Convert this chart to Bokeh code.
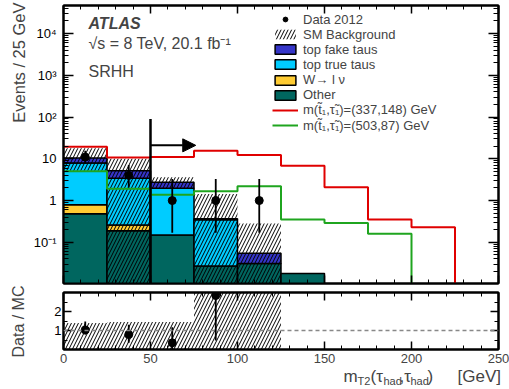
import math
import numpy as np
from bokeh.plotting import figure
from bokeh.models import (Range1d, FixedTicker, SingleIntervalTicker, LinearAxis, LogAxis,
                          Label, Legend, LegendItem, Arrow, NormalHead, Span, CustomJSTickFormatter)
from bokeh.layouts import column, row
from bokeh.embed import file_html
from bokeh.resources import INLINE

FONT = "Liberation Sans"

# ---------------- data ----------------
bin_edges = [0, 25, 50, 75, 100, 125, 150, 175, 200, 225, 250]
x_ticks = [0, 50, 100, 150, 200, 250]

# stacked backgrounds (bins 0-150 GeV)
other    = [0.48, 0.19, 0.15, 0.027, 0.031, 0.018]
wlnu     = [0.31, 0.07, 0.0, 0.0, 0.0, 0.0]
top_true = [7.1, 3.14, 1.81, 0.32, 0.0, 0.0]
top_fake = [2.5, 1.8, 0.79, 0.02, 0.024, 0.0]

# SM background uncertainty band
sm_up   = [18.0, 10.0, 3.6, 1.44, 0.28, 0.0]
sm_down = [5.2, 0.0, 1.9, 0.0, 0.0, 0.0]

# signals
sig1 = [19.4, 10.7, 11.1, 15.5, 12.4, 6.8, 2.08, 0.35, 0.23, 0.0]   # (337,148)
sig2 = [5.0, 1.92, 1.37, 1.67, 2.2, 0.35, 0.29, 0.16, 0.0, 0.0]     # (503,87)

# data
data_x  = [12.5, 37.5, 62.5, 87.5, 112.5]
data_y  = [11, 4, 1, 1, 1]
data_lo = [7.6, 2.05, 0.17, 0.17, 0.17]
data_hi = [15.6, 7.1, 3.3, 3.3, 3.3]

# ratio panel
ratio_x  = [12.5, 37.5, 62.5, 87.5]
ratio_y  = [1.03, 0.79, 0.35, 2.84]
ratio_lo = [0.79, 0.35, 0.0, 0.47]
ratio_hi = [1.48, 1.30, 1.17, 3.5]
ratio_band_lo = [0.0, 0.0, 0.0, 0.0, 0.0]
ratio_band_hi = [1.4, 1.45, 1.45, 3.5, 3.5]

cut_value = 50
cut_line_top = 90
arrow_y = 21
arrow_end = 76

y_major = [0.1, 1, 10, 100, 1000, 10000]
y_labels = {0.1: "10\u207b\u00b9", 1: "1", 10: "10", 100: "10\u00b2", 1000: "10\u00b3", 10000: "10\u2074"}

C_FAKE = "#3535c8"
C_TRUE = "#00ccff"
C_W = "#ffcc33"
C_OTHER = "#00665f"
C_RED = "#e00000"
C_GREEN = "#1fa51f"

YMIN, YMAX = 0.0103, 4.7e4
TINY = 1e-5

# layout (pixels)
STRIP = 30          # left strip holding the rotated axis titles
BL, BR = 33, 11     # borders left/right of the plot frames
FRAME_W = 509 - STRIP - BL - BR
FRAME_H_MAIN = 288 - 5 - 5

BLANK = CustomJSTickFormatter(code="return ''")

# ---------------- helpers ----------------
def style_axis(ax, labels=True, major_in=9, minor_in=5, standoff=6, size="13px"):
    ax.major_tick_in = major_in
    ax.major_tick_out = 0
    ax.minor_tick_in = minor_in
    ax.minor_tick_out = 0
    ax.axis_line_color = "black"
    ax.axis_line_width = 2
    ax.major_tick_line_width = 1.5
    ax.minor_tick_line_width = 1
    ax.major_label_text_font = FONT
    ax.major_label_text_color = "black"
    ax.major_label_standoff = standoff
    ax.major_label_text_font_size = size
    if not labels:
        ax.formatter = BLANK
        ax.major_label_text_font_size = "1px"
        ax.major_label_standoff = 0

def step_xy(edges, vals):
    xs, ys = [], []
    for i, v in enumerate(vals):
        v = v if v > 0 else TINY
        xs += [edges[i], edges[i + 1]]
        ys += [v, v]
    return xs, ys

def plain(fig):
    fig.grid.visible = False
    fig.background_fill_color = "white"
    fig.border_fill_color = "white"

# ---------------- main figure ----------------
p = figure(width=509 - STRIP, height=288, x_range=Range1d(0, 250), y_range=Range1d(YMIN, YMAX),
           y_axis_type="log", output_backend="svg", toolbar_location=None,
           min_border_left=BL, min_border_right=BR, min_border_top=5, min_border_bottom=5)
plain(p)
p.outline_line_color = "black"
p.outline_line_width = 2

xtick = SingleIntervalTicker(interval=50, num_minor_ticks=5)
y_minor = [k * 10.0 ** n for n in range(-2, 5) for k in range(2, 10)]
ytick = FixedTicker(ticks=y_major, minor_ticks=y_minor)

p.xaxis.ticker = xtick
style_axis(p.xaxis[0], labels=False, major_in=8, minor_in=4)
p.yaxis.ticker = ytick
style_axis(p.yaxis[0], labels=True, major_in=10, minor_in=5, standoff=7)
p.yaxis[0].major_label_overrides = y_labels

ax_top = LinearAxis(ticker=xtick)
style_axis(ax_top, labels=False, major_in=8, minor_in=4)
p.add_layout(ax_top, "above")
ax_right = LogAxis(ticker=ytick)
style_axis(ax_right, labels=False, major_in=10, minor_in=5)
p.add_layout(ax_right, "right")

# stacked background
nb = len(other)
left = np.array(bin_edges[:nb], dtype=float)
right = np.array(bin_edges[1:nb + 1], dtype=float)
comps = [("Other", other, C_OTHER), ("W\u2192 l \u03bd", wlnu, C_W),
         ("top true taus", top_true, C_TRUE), ("top fake taus", top_fake, C_FAKE)]
cum = np.zeros(nb)
stack_r = {}
for name, vals, col in comps:
    vals = np.array(vals, dtype=float)
    bottom = np.where(cum > 0, cum, TINY)
    top = cum + vals
    m = vals > 0
    r = p.quad(left=left[m], right=right[m], bottom=bottom[m], top=top[m],
               fill_color=col, line_color="black", line_width=1.5)
    stack_r[name] = r
    cum = top

# SM band hatch
up = np.array(sm_up); dn = np.array(sm_down)
m = up > 0
sm_r = p.quad(left=left[m], right=right[m], bottom=np.where(dn > 0, dn, TINY)[m], top=up[m],
              fill_color=None, line_color=None, hatch_pattern="/", hatch_color="black",
              hatch_scale=7, hatch_weight=1)

# signals
xs1, ys1 = step_xy(bin_edges, sig1)
r_sig1 = p.line(xs1, ys1, line_color=C_RED, line_width=2)
xs2, ys2 = step_xy(bin_edges, sig2)
r_sig2 = p.line(xs2, ys2, line_color=C_GREEN, line_width=2)

# cut line and arrow
p.segment(x0=[cut_value], y0=[TINY], x1=[cut_value], y1=[cut_line_top], line_color="black", line_width=2.5)
p.add_layout(Arrow(x_start=cut_value, y_start=arrow_y, x_end=arrow_end, y_end=arrow_y,
                   line_width=2, line_color="black",
                   end=NormalHead(size=13, fill_color="black", line_color="black")))

# data
p.segment(x0=data_x, y0=data_lo, x1=data_x, y1=data_hi, line_color="black", line_width=1.8)
r_data = p.scatter(data_x, data_y, size=8, color="black")

# legend: one single-entry legend per row so that the row pitch matches
legend_entries = [
    ("Data 2012", r_data),
    ("SM Background", sm_r),
    ("top fake taus", stack_r["top fake taus"]),
    ("top true taus", stack_r["top true taus"]),
    ("W\u2192 l \u03bd", stack_r["W\u2192 l \u03bd"]),
    ("Other", stack_r["Other"]),
    ("m(t\u0303\u2081,\u03c4\u0303\u2081)=(337,148) GeV", r_sig1),
    ("m(t\u0303\u2081,\u03c4\u0303\u2081)=(503,87) GeV", r_sig2),
]
ROW0, PITCH, ITEM_H = 14.0, 15.14, 15.1
for i, (lab, rend) in enumerate(legend_entries):
    centre_from_top = ROW0 + PITCH * i
    vy = FRAME_H_MAIN - centre_from_top - ITEM_H / 2
    p.add_layout(Legend(items=[LegendItem(label=lab, renderers=[rend])], location=(209, vy),
                        padding=0, margin=0, spacing=0, label_height=12, glyph_height=12,
                        glyph_width=26, label_standoff=5, border_line_color=None,
                        background_fill_alpha=0, label_text_font=FONT,
                        label_text_font_size="13px", label_text_baseline="middle"))

# text labels inside the frame
p.add_layout(Label(x=25, y=260, x_units="screen", y_units="screen", text="ATLAS",
                   text_font=FONT, text_font_style="bold italic", text_font_size="16px",
                   text_baseline="middle"))
p.add_layout(Label(x=25, y=240, x_units="screen", y_units="screen",
                   text="\u221as = 8 TeV, 20.1 fb\u207b\u00b9",
                   text_font=FONT, text_font_size="16px", text_baseline="middle"))
p.add_layout(Label(x=25, y=212, x_units="screen", y_units="screen", text="SRHH",
                   text_font=FONT, text_font_size="16px", text_baseline="middle"))

# ---------------- ratio figure ----------------
q = figure(width=509 - STRIP, height=63, x_range=p.x_range, y_range=Range1d(0, 3.0),
           output_backend="svg", toolbar_location=None,
           min_border_left=BL, min_border_right=BR, min_border_top=4, min_border_bottom=2)
plain(q)
q.outline_line_color = "black"
q.outline_line_width = 2

qytick = FixedTicker(ticks=[1, 2], minor_ticks=[0.5, 1.5, 2.5])
q.xaxis.ticker = xtick
style_axis(q.xaxis[0], labels=False, major_in=8, minor_in=4)
q.yaxis.ticker = qytick
style_axis(q.yaxis[0], labels=True, major_in=8, minor_in=4, standoff=2, size="13px")
qa_top = LinearAxis(ticker=xtick)
style_axis(qa_top, labels=False, major_in=8, minor_in=4)
q.add_layout(qa_top, "above")
qa_right = LinearAxis(ticker=qytick)
style_axis(qa_right, labels=False, major_in=8, minor_in=4)
q.add_layout(qa_right, "right")

nr = len(ratio_band_hi)
q.quad(left=bin_edges[:nr], right=bin_edges[1:nr + 1], bottom=ratio_band_lo, top=ratio_band_hi,
       fill_color=None, line_color=None, hatch_pattern="/", hatch_color="black",
       hatch_scale=7, hatch_weight=1)
q.add_layout(Span(location=1, dimension="width", line_color="#888888", line_dash="4 3", line_width=1.5))
q.segment(x0=ratio_x, y0=ratio_lo, x1=ratio_x, y1=ratio_hi, line_color="black", line_width=1.8)
q.scatter(ratio_x, ratio_y, size=8, color="black")

# ---------------- x tick labels + x title strip ----------------
k = 250.0 / FRAME_W
xl = figure(width=509 - STRIP, height=38, x_range=Range1d(-BL * k, 250 + BR * k), y_range=Range1d(0, 1),
            output_backend="svg", toolbar_location=None, x_axis_location=None, y_axis_location=None,
            min_border_left=0, min_border_right=0, min_border_top=0, min_border_bottom=0,
            frame_align=False)
plain(xl)
xl.outline_line_color = None
for t in x_ticks:
    xl.add_layout(Label(x=t, y=31, x_units="data", y_units="screen", text=str(t),
                        text_font=FONT, text_font_size="13px", text_align="center",
                        text_baseline="middle"))
pieces = [("m", 313, 13, "17px"), ("T2", 327, 9, "11px"), ("(\u03c4", 340, 13, "17px"),
          ("had", 353, 9, "11px"), (",\u03c4", 369, 13, "17px"), ("had", 380, 9, "11px"),
          (")", 397, 13, "17px"), ("[GeV]", 427, 13, "17px")]
for txt, lx, ly, fs in pieces:
    xl.add_layout(Label(x=lx, y=ly, x_units="screen", y_units="screen", text=txt,
                        text_font=FONT, text_font_size=fs, text_baseline="alphabetic"))

# ---------------- left strip with rotated titles ----------------
yl = figure(width=STRIP, height=389, x_range=Range1d(0, 1), y_range=Range1d(0, 1),
            output_backend="svg", toolbar_location=None, x_axis_location=None, y_axis_location=None,
            min_border_left=0, min_border_right=0, min_border_top=0, min_border_bottom=0,
            frame_align=False)
plain(yl)
yl.outline_line_color = None
yl.add_layout(Label(x=18, y=387, x_units="screen", y_units="screen", text="Events / 25 GeV",
                    angle=math.pi / 2, text_align="right", text_baseline="middle",
                    text_font=FONT, text_font_size="16.5px"))
yl.add_layout(Label(x=18, y=68, x_units="screen", y_units="screen", text="Data / MC",
                    angle=math.pi / 2, text_align="center", text_baseline="middle",
                    text_font=FONT, text_font_size="16px"))

layout = row(yl, column(p, q, xl, spacing=0), spacing=0)
open("out.html", "w").write(file_html(layout, INLINE))
